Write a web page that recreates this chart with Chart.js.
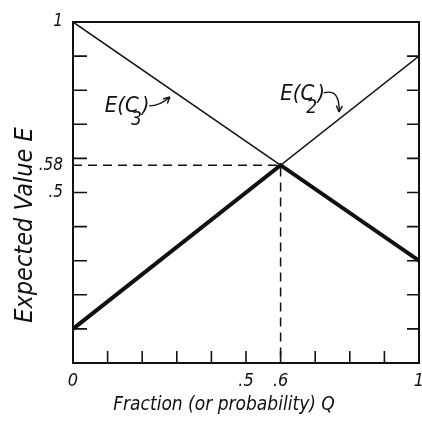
<!DOCTYPE html>
<html>
<head>
<meta charset="utf-8">
<script src="https://cdn.jsdelivr.net/npm/chart.js@4"></script>
<style>
  html, body { margin: 0; padding: 0; background: #fff; }
  #wrap { width: 422px; height: 422px; }
</style>
</head>
<body>
<div id="wrap"><canvas id="chart"></canvas></div>
<script>
// Expected value of two choices against fraction Q
const qEnds = [0, 1];
const eC3 = [1, 0.3];
const eC2 = [0.1, 0.9];
// lower envelope (heavy line)
const envQ = [0, 0.6, 1];
const envE = [0.1, 0.58, 0.3];
// dashed guide to the crossing point
const guideQ = [0, 0.6, 0.6];
const guideE = [0.58, 0.58, 0];

const xTickLabels = [0, 0.5, 0.6, 1];
const yTickLabels = [0.5, 0.58, 1];
const tickMarks = [0.1, 0.2, 0.3, 0.4, 0.5, 0.6, 0.7, 0.8, 0.9];

const xTitle = 'Fraction (or probability) Q';
const yTitle = 'Expected Value E';

const INK = '#111';
const FONT = '"Liberation Sans Narrow", "DejaVu Sans Condensed", sans-serif';

const pts = (xs, ys) => xs.map((x, i) => ({ x, y: ys[i] }));
const fmt = v => (v === 0 || v === 1) ? String(v) : String(v).replace(/^0/, '');

// frame + inward tick marks
const framePlugin = {
  id: 'frame',
  afterDatasetsDraw(chart) {
    const { ctx, chartArea: a, scales: { x, y } } = chart;
    ctx.save();
    ctx.strokeStyle = INK;
    ctx.lineWidth = 2;
    ctx.strokeRect(a.left, a.top, a.right - a.left, a.bottom - a.top);
    ctx.lineWidth = 1.6;
    ctx.beginPath();
    tickMarks.forEach(v => {
      const py = y.getPixelForValue(v);
      ctx.moveTo(a.left, py); ctx.lineTo(a.left + 14, py);
      ctx.moveTo(a.right, py); ctx.lineTo(a.right - 12, py);
      const px = x.getPixelForValue(v);
      ctx.moveTo(px, a.bottom); ctx.lineTo(px, a.bottom - 12);
    });
    ctx.stroke();

    // axis titles (set off-centre like the original drawing)
    ctx.fillStyle = INK;
    ctx.textAlign = 'center';
    ctx.textBaseline = 'middle';
    ctx.font = 'italic 19px ' + FONT;
    ctx.fillText(xTitle, a.left + 151, a.bottom + 42);
    ctx.translate(25, a.bottom - 138);
    ctx.rotate(-Math.PI / 2);
    ctx.font = 'italic 25px ' + FONT;
    ctx.fillText(yTitle, 0, 0);
    ctx.restore();
  }
};

// curve labels with hand-drawn arrows
const labels = [
  { main: 'E(C', sub: '3', at: [0.092, 0.736], from: [0.22, 0.754], bend: [0.252, 0.754], to: [0.28, 0.78] },
  { main: 'E(C', sub: '2', at: [0.599, 0.771], from: [0.725, 0.792], bend: [0.772, 0.806], to: [0.769, 0.736] }
];

const labelPlugin = {
  id: 'curveLabels',
  afterDatasetsDraw(chart) {
    const { ctx, scales: { x, y } } = chart;
    ctx.save();
    ctx.fillStyle = INK;
    ctx.strokeStyle = INK;
    ctx.lineWidth = 1.4;
    ctx.textBaseline = 'alphabetic';
    labels.forEach(l => {
      let px = x.getPixelForValue(l.at[0]);
      const py = y.getPixelForValue(l.at[1]);
      ctx.font = 'italic 22px ' + FONT;
      ctx.fillText(l.main, px, py);
      px += ctx.measureText(l.main).width - 8;
      ctx.font = 'italic 19px ' + FONT;
      ctx.fillText(l.sub, px, py + 13);
      px += ctx.measureText(l.sub).width;
      ctx.font = 'italic 22px ' + FONT;
      ctx.fillText(')', px, py);
      // arrow
      const fx = x.getPixelForValue(l.from[0]), fy = y.getPixelForValue(l.from[1]);
      const tx = x.getPixelForValue(l.to[0]), ty = y.getPixelForValue(l.to[1]);
      const bx = x.getPixelForValue(l.bend[0]), by = y.getPixelForValue(l.bend[1]);
      ctx.beginPath();
      ctx.moveTo(fx, fy);
      ctx.quadraticCurveTo(bx, by, tx, ty);
      ctx.stroke();
      const ang = Math.atan2(ty - by, tx - bx);
      ctx.beginPath();
      ctx.moveTo(tx, ty);
      ctx.lineTo(tx - 7 * Math.cos(ang - 0.45), ty - 7 * Math.sin(ang - 0.45));
      ctx.moveTo(tx, ty);
      ctx.lineTo(tx - 7 * Math.cos(ang + 0.45), ty - 7 * Math.sin(ang + 0.45));
      ctx.stroke();
    });
    ctx.restore();
  }
};

new Chart(document.getElementById('chart'), {
  type: 'scatter',
  data: {
    datasets: [
      { label: 'E(C3)', data: pts(qEnds, eC3), showLine: true, borderColor: INK, borderWidth: 1.5, pointRadius: 0 },
      { label: 'E(C2)', data: pts(qEnds, eC2), showLine: true, borderColor: INK, borderWidth: 1.5, pointRadius: 0 },
      { label: 'min', data: pts(envQ, envE), showLine: true, borderColor: INK, borderWidth: 4, pointRadius: 0 },
      { label: 'guide', data: pts(guideQ, guideE), showLine: true, borderColor: INK, borderWidth: 1.5, borderDash: [9, 6], pointRadius: 0 }
    ]
  },
  options: {
    responsive: true,
    maintainAspectRatio: false,
    animation: false,
    layout: { padding: { top: 22, right: 3, left: 0, bottom: 0 } },
    plugins: {
      legend: { display: false },
      tooltip: { enabled: false }
    },
    scales: {
      x: {
        type: 'linear',
        min: 0,
        max: 1,
        grid: { display: false, drawTicks: false },
        border: { display: false },
        afterBuildTicks: s => { s.ticks = xTickLabels.map(v => ({ value: v })); },
        afterFit: s => { s.height = 59; s.paddingLeft = 0; s.paddingRight = 0; },
        ticks: {
          color: INK,
          padding: 8,
          maxRotation: 0,
          autoSkip: false,
          font: { family: FONT, style: 'italic', size: 18 },
          callback: v => fmt(v)
        }
      },
      y: {
        type: 'linear',
        min: 0,
        max: 1,
        grid: { display: false, drawTicks: false },
        border: { display: false },
        afterBuildTicks: s => { s.ticks = yTickLabels.map(v => ({ value: v })); },
        afterFit: s => { s.width = 73; s.paddingTop = 0; s.paddingBottom = 0; },
        ticks: {
          color: INK,
          padding: 10,
          autoSkip: false,
          font: { family: FONT, style: 'italic', size: 17 },
          callback: v => fmt(v)
        }
      }
    }
  },
  plugins: [framePlugin, labelPlugin]
});
</script>
</body>
</html>
